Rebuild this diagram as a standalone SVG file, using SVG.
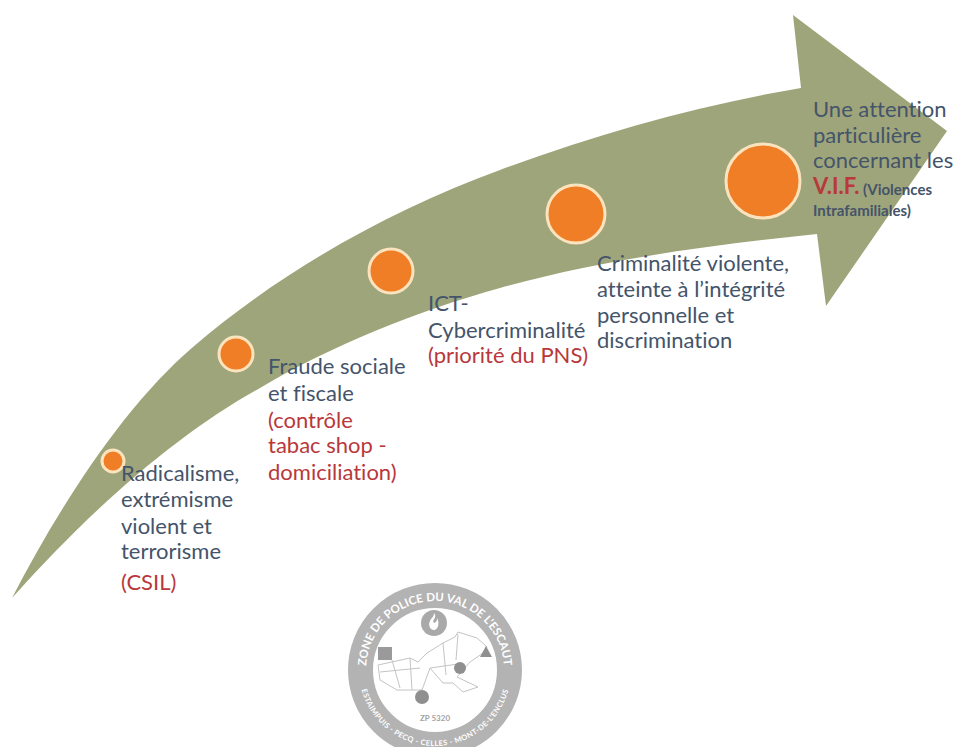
<svg xmlns="http://www.w3.org/2000/svg" width="957" height="747" viewBox="0 0 957 747">
<style>
text{font-family:Lato,"Open Sans","Liberation Sans",sans-serif;font-variant-ligatures:none}
.b{font-size:22px;fill:#44546a}
.r{font-size:22px;fill:#b8383b}
.s{font-size:15px;font-weight:700;fill:#44546a}
.d{fill:#f07e26;stroke:#fbe3bd;stroke-width:3}
.ring{font-size:11.5px;font-weight:700;fill:#fff}
.ring2{font-size:7.5px;font-weight:700;fill:#fff;letter-spacing:.4px}
.map{fill:none;stroke:#c4c4c4;stroke-width:1}
</style>
<defs>
<path id="top" d="M435 739A69 69 0 1 1 435 601A69 69 0 1 1 435 739"/>
<path id="bot" d="M435 594A76 76 0 1 0 435 746A76 76 0 1 0 435 594"/>
</defs>
<rect width="957" height="747" fill="#fff"/>
<g id="connectors">
<path id="arrow" fill="#9fa57a" d="M12 598C60 505 125 405 193 347C280 272 390 210 500 170C600 133 700 105 801 88L793 15L947 131L826 306L817 234C710 245 600 260 500 288C420 310 330 346 260 388C180 432 95 505 12 598Z"/>
</g>
<g id="node-1"><circle class="d" cx="113" cy="461" r="11"/>
<text class="b" x="121" y="481">Radicalisme,</text><text class="b" x="121" y="507">extrémisme</text><text class="b" x="121" y="534">violent et</text><text class="b" x="121" y="559">terrorisme</text><text class="r" x="121" y="590">(CSIL)</text></g>
<g id="node-2"><circle class="d" cx="236" cy="354" r="17"/>
<text class="b" x="268" y="374">Fraude sociale</text><text class="b" x="268" y="401">et fiscale</text><text class="r" x="268" y="428">(contrôle</text><text class="r" x="268" y="453">tabac shop -</text><text class="r" x="268" y="480">domiciliation)</text></g>
<g id="node-3"><circle class="d" cx="391" cy="271" r="22"/>
<text class="b" x="428" y="311">ICT-</text><text class="b" x="428" y="338">Cybercriminalité</text><text class="r" x="428" y="363">(priorité du PNS)</text></g>
<g id="node-4"><circle class="d" cx="576" cy="214" r="29"/>
<text class="b" x="597" y="271">Criminalité violente,</text><text class="b" x="597" y="297">atteinte à l’intégrité</text><text class="b" x="597" y="323">personnelle et</text><text class="b" x="597" y="348">discrimination</text></g>
<g id="node-5"><circle class="d" cx="763" cy="181" r="37"/>
<text class="b" x="813" y="117">Une attention</text><text class="b" x="813" y="143">particulière</text><text class="b" x="813" y="168">concernant les</text><text class="r" x="813" y="194" font-weight="700">V.I.F.</text><text class="s" x="863" y="195">(Violences</text><text class="s" x="813" y="216">Intrafamiliales)</text></g>
<g id="logo">
<circle cx="435" cy="670" r="74.5" fill="none" stroke="#b3b3b3" stroke-width="25"/>
<text class="ring"><textPath href="#top" startOffset="50%" text-anchor="middle">ZONE DE POLICE DU VAL DE L’ESCAUT</textPath></text>
<text class="ring2"><textPath href="#bot" startOffset="50%" text-anchor="middle">ESTAIMPUIS - PECQ - CELLES - MONT-DE-L’ENCLUS</textPath></text>
<circle cx="434" cy="623" r="13" fill="#a9a9a9"/>
<path d="M434 613c4 5-3 7 0 10 3-1 3-3 3-5 3 5 1 12-3 12s-6-5-4-9c1-3 4-4 4-8Z" fill="#fff"/>
<path class="map" d="M378 665L410 658 418 662 427 653 443 643 455 637 458 632 477 638 487 647 483 653 470 662 457 677 478 687 463 692 453 683 443 683 430 668 422 690 410 690 397 690 380 680Z"/>
<path class="map" d="M380 672L420 668M392 660L400 688M410 658L412 690M458 634L456 660M443 643L446 675M430 668L458 664"/>
<rect x="378" y="647" width="14" height="13" fill="#9a9a9a"/>
<circle cx="422" cy="697" r="7" fill="#8f8f8f"/>
<circle cx="460" cy="668" r="6" fill="#8f8f8f"/>
<path d="M486 646l-6 11h12Z" fill="#8f8f8f"/>
<text x="435" y="721" text-anchor="middle" font-size="8" font-weight="700" fill="#a3a3a3">ZP 5320</text>
</g>
</svg>
